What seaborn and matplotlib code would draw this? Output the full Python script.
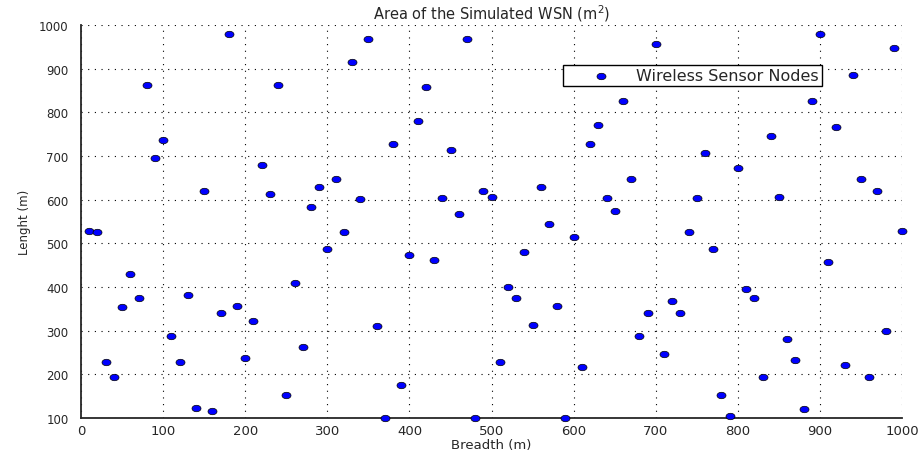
import numpy as np
import pandas as pd
import seaborn as sns
import matplotlib
matplotlib.use('Agg')
import matplotlib.pyplot as plt
from matplotlib.path import Path

# node positions, one node every 10 m along x
breadth = [10, 20, 30, 40, 50, 60, 70, 80, 90, 100,
           110, 120, 130, 140, 150, 160, 170, 180, 190, 200,
           210, 220, 230, 240, 250, 260, 270, 280, 290, 300,
           310, 320, 330, 340, 350, 360, 370, 380, 390, 400,
           410, 420, 430, 440, 450, 460, 470, 480, 490, 500,
           510, 520, 530, 540, 550, 560, 570, 580, 590, 600,
           610, 620, 630, 640, 650, 660, 670, 680, 690, 700,
           710, 720, 730, 740, 750, 760, 770, 780, 790, 800,
           810, 820, 830, 840, 850, 860, 870, 880, 890, 900,
           910, 920, 930, 940, 950, 960, 970, 980, 990, 1000]
length = [528, 525, 229, 194, 354, 429, 374, 863, 696, 737,
          288, 228, 381, 124, 620, 115, 341, 980, 356, 238,
          322, 680, 612, 863, 152, 410, 262, 583, 628, 488,
          647, 525, 915, 602, 967, 311, 100, 728, 175, 474,
          780, 858, 461, 603, 714, 567, 967, 100, 620, 607,
          228, 400, 374, 481, 314, 628, 544, 356, 100, 515,
          217, 728, 772, 603, 574, 825, 647, 288, 341, 956,
          247, 369, 341, 526, 603, 706, 488, 152, 105, 672,
          395, 374, 194, 745, 607, 281, 232, 121, 825, 980,
          458, 766, 222, 886, 647, 194, 620, 300, 948, 528]

x_ticks = [0, 100, 200, 300, 400, 500, 600, 700, 800, 900, 1000]
y_ticks = [100, 200, 300, 400, 500, 600, 700, 800, 900, 1000]

nodes = pd.DataFrame({'breadth': breadth, 'length': length})

sns.set_style('white')
plt.rcParams['font.family'] = ['DejaVu Sans']

# the markers in the reference are slightly flattened circles
theta = np.linspace(0, 2 * np.pi, 40)
ellipse = Path(np.column_stack([1.4 * np.cos(theta), np.sin(theta)]), closed=True)

fig = plt.figure(figsize=(9.22, 4.52), dpi=100)
ax = fig.add_axes([0.0879, 0.073, 0.8905, 0.8695])

sns.scatterplot(data=nodes, x='breadth', y='length', ax=ax,
                marker=ellipse, s=42, color='#0000ff', edgecolor='black',
                linewidth=0.5, label='Wireless Sensor Nodes', clip_on=False, zorder=3)

ax.set_xlim(0, 1000)
ax.set_ylim(100, 1000)
ax.set_xticks(x_ticks)
ax.set_yticks(y_ticks)
ax.grid(True, color='black', linestyle=(0, (1, 5)), linewidth=0.8)

for side in ['top', 'right']:
    ax.spines[side].set_visible(False)
for side in ['left', 'bottom']:
    ax.spines[side].set_color('0.15')
    ax.spines[side].set_linewidth(1.3)

ax.tick_params(axis='x', direction='in', length=3, width=0.8, labelsize=9.5, pad=4, colors='0.15')
ax.tick_params(axis='y', direction='in', length=3, width=0.8, labelsize=8.5, pad=9, colors='0.15')

ax.set_title('Area of the Simulated WSN (m$^2$)', fontsize=10.5, pad=5)
ax.set_xlabel('Breadth (m)', fontsize=9.5, labelpad=1)
ax.set_ylabel('Lenght (m)', fontsize=8.5, labelpad=6)

leg = ax.legend(loc='upper left', bbox_to_anchor=(0.587, 0.898), borderaxespad=0,
                fontsize=11.5, frameon=True, fancybox=False, borderpad=0.2,
                handlelength=4.3, handletextpad=0.1, scatterpoints=1)
leg.get_frame().set_edgecolor('black')
leg.get_frame().set_linewidth(1.0)
leg.get_frame().set_alpha(1)

plt.savefig('out.png', dpi=100)
